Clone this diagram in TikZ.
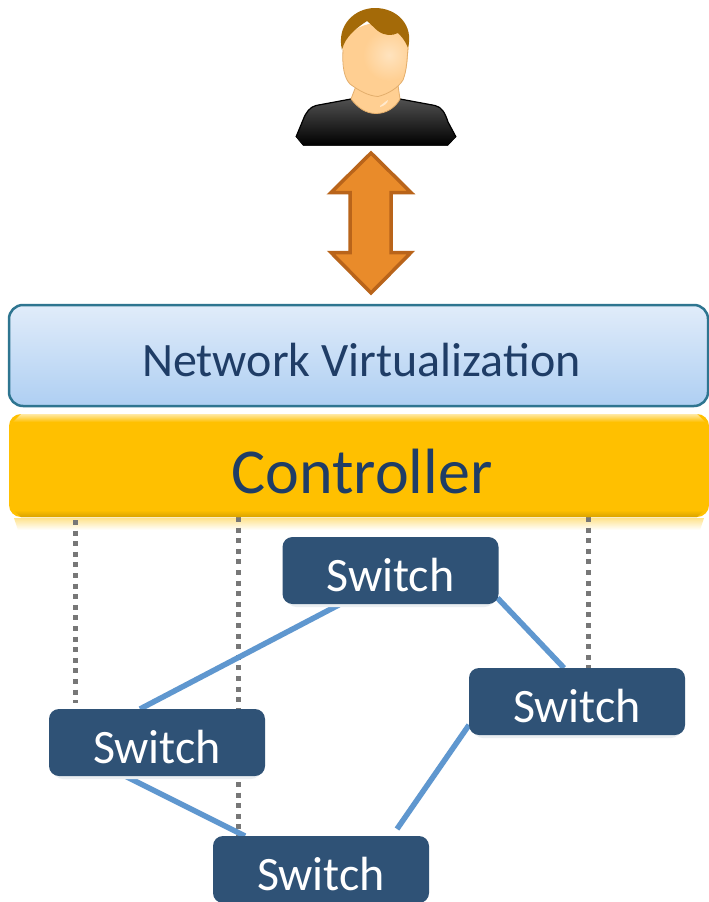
\documentclass[tikz,border=0pt]{standalone}
\usepackage{fontspec}
\setmainfont{Carlito}
\usetikzlibrary{backgrounds}
\definecolor{txtblue}{HTML}{1F3D66}
\definecolor{swfill}{HTML}{2F5276}
\definecolor{linkblue}{HTML}{5F97CF}
\definecolor{dotgray}{HTML}{777777}
\definecolor{ctrl}{HTML}{FFC000}
\definecolor{ctrldark}{HTML}{D9A300}
\definecolor{netborder}{HTML}{2E7590}
\definecolor{nettop}{HTML}{E1ECFA}
\definecolor{netbot}{HTML}{AECFF2}
\definecolor{arrowfill}{HTML}{E98B2A}
\definecolor{arrowline}{HTML}{B9641A}
\definecolor{hair}{HTML}{A46A08}
\definecolor{skin}{HTML}{FFCF92}
\definecolor{skinlight}{HTML}{FFE3BE}
\definecolor{skinline}{HTML}{E3AE6C}
\definecolor{shirttop}{HTML}{505050}
\tikzset{
  swbox/.style={fill=swfill,rounded corners=10pt,minimum width=216pt,minimum height=67pt,inner sep=0pt,outer sep=0pt,text=white},
  swlabel/.style={text=white,inner sep=0pt,font=\fontsize{48}{48}\selectfont},
  swshadow/.style={fill=swfill!10,rounded corners=10pt},
  link/.style={draw=linkblue,line width=5.5pt},
  ctl/.style={draw=dotgray,line width=5pt,dash pattern=on 5pt off 5.6pt},
}
\begin{document}
\begin{tikzpicture}[x=1pt,y=-1pt]
\clip (0,0) rectangle (709,902);
% person
\fill[top color=shirttop,bottom color=black]
  (296,137) -- (303,120) .. controls (306,112) and (310,107) .. (316,105.5) -- (351,99) -- (400,99) -- (435,105.5) .. controls (442,107) and (445,113) .. (448,122) -- (456,137) -- (448,145.5) -- (303,145.5) -- cycle;
\draw[black,line width=1.2pt] (296,137) -- (303,120) .. controls (306,112) and (310,107) .. (316,105.5) -- (351,99);
\draw[black,line width=1.2pt] (400,99) -- (435,105.5) .. controls (442,107) and (445,113) .. (448,122) -- (456,137);
\filldraw[fill=skin,draw=skinline,line width=.8pt]
  (356,86) -- (351,99) .. controls (358,108) and (366,113.5) .. (376,113.5) .. controls (386,113.5) and (395,108) .. (400,99) -- (398,85) -- cycle;
\path[fill=white,opacity=.55] (380,106) .. controls (384,103) and (386,101) .. (388,100) .. controls (388,103) and (384,106) .. (380,107) -- cycle;
\begin{scope}
\path[clip] (343,42) .. controls (342,65) and (344,78) .. (350,84) .. controls (358,90) and (368,96) .. (378,96.5) .. controls (388,94) and (398,88) .. (403,80) .. controls (407,70) and (408,58) .. (409,35) .. controls (400,20) and (360,15) .. (343,42) -- cycle;
\fill[skin] (330,10) rectangle (420,100);
\shade[inner color=skinlight,outer color=skin] (389,55) circle (26);
\end{scope}
\draw[skinline,line width=.8pt] (343,50) .. controls (342,65) and (344,78) .. (350,84) .. controls (358,90) and (368,96) .. (378,96.5) .. controls (388,94) and (398,88) .. (403,80) .. controls (407,70) and (407,58) .. (408,48);
\fill[hair] (342,50) .. controls (336,25) and (355,8) .. (375,8) .. controls (397,8) and (414,25) .. (408,48) .. controls (405,40) and (401,36) .. (398,33) .. controls (392,36) and (385,36) .. (378,31) .. controls (374,28) and (371,24) .. (367,21) .. controls (358,27) and (345,36) .. (342,50) -- cycle;
% block arrow
\filldraw[fill=arrowfill,draw=arrowline,line width=3.5pt,line join=miter]
  (371,153) -- (411,192.5) -- (391,192.5) -- (391,252.5) -- (411,252.5) -- (371,293) -- (331,252.5) -- (350,252.5) -- (350,192.5) -- (331,192.5) -- cycle;
% layers
\node[draw=netborder,line width=2.5pt,top color=nettop,bottom color=netbot,rounded corners=14pt,minimum width=699pt,minimum height=101pt,inner sep=0pt,outer sep=0pt] (net) at (358.5,355.5) {};
\node[text=txtblue,font=\fontsize{48}{48}\selectfont,inner sep=0pt] (netlabel) at (361.5,360) {Network Virtualization};
\node[fill=ctrl,rounded corners=12pt,minimum width=700pt,minimum height=103pt,inner sep=0pt,outer sep=0pt] (ctrl) at (359,465.5) {};
\shade[top color=ctrl!35!white,bottom color=ctrl] (21,414) -- (697,414) -- (705,422) -- (13,422) -- cycle;
\shade[top color=ctrl,bottom color=ctrldark] (13,510) -- (705,510) -- (697,517) -- (21,517) -- cycle;
\node[text=txtblue,font=\fontsize{64}{64}\selectfont,inner sep=0pt] (ctrllabel) at (362,472) {Controller};
% switches
\node[swbox] (swT) at (390.5,570.5) {};
\node[swbox] (swR) at (577,701.5) {};
\node[swbox] (swL) at (157,742.5) {};
\node[swbox] (swB) at (321,869.5) {};
\node[swlabel] (swTl) at (390.5,575) {Switch};
\node[swlabel] (swRl) at (577,706) {Switch};
\node[swlabel] (swLl) at (157,747) {Switch};
\node[swlabel] (swBl) at (321,874) {Switch};
\begin{scope}[on background layer]
\fill[white] (0,0) rectangle (709,902);
\shade[top color=ctrl!45!white,bottom color=white] (14,518) -- (704,518) -- (700,530) -- (18,530) -- cycle;
\draw[ctl] ([xshift=-284pt]ctrl.north) -- ([xshift=-82pt,yshift=6pt]swL.north);
\draw[ctl] ([xshift=-121pt]ctrl.south) -- ([xshift=-83pt]swB.north);
\draw[ctl] ([xshift=229pt]ctrl.south) -- ([xshift=11pt]swR.north);
\draw[link] ([xshift=-50pt]swT.south) -- ([xshift=-17pt]swL.north);
\draw[link] ([xshift=107pt,yshift=6pt]swT.south) -- ([xshift=-13pt]swR.north);
\draw[link] ([xshift=-108pt,yshift=10pt]swR.south) -- ([xshift=76pt,yshift=7pt]swB.north);
\draw[link] ([xshift=-32pt]swL.south) -- ([xshift=-76pt]swB.north);
\foreach \n in {swT,swR,swL}
  \fill[swshadow] ([xshift=4pt,yshift=-3pt]\n.south west) rectangle ([xshift=-4pt,yshift=20pt]\n.south east);
\end{scope}
\end{tikzpicture}
\end{document}
